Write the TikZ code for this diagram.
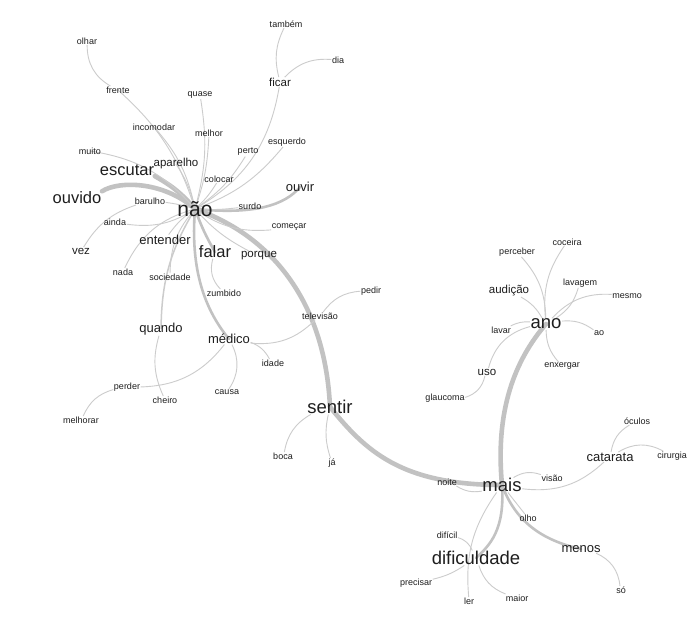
\documentclass[tikz,border=0pt]{standalone}
\usepackage{fontspec}
\setmainfont{Liberation Sans}
\usetikzlibrary{backgrounds}
\definecolor{wordc}{HTML}{1E1E1E}
\definecolor{linkc}{HTML}{CCCCCC}
\definecolor{trunkc}{HTML}{C2C2C2}
\tikzset{
  wrd/.style={text=wordc,inner sep=0.5pt,font=\fontsize{#1}{#1}\selectfont},
  tw/.style={wrd=9},
  sw/.style={wrd=11.5},
  mw/.style={wrd=13},
  lw/.style={wrd=16.5},
  xw/.style={wrd=18.5},
  hw/.style={wrd=21},
  ln/.style={draw=linkc,line width=0.9pt},
  lm/.style={draw=trunkc,line width=2.6pt,line cap=round},
  lb/.style={draw=trunkc,line width=4.6pt,line cap=round}
}

\begin{document}
\begin{tikzpicture}[x=1pt,y=-1pt]
\useasboundingbox (0,0) rectangle (700,637);
% words
\node[hw] (nao) at (195,209) {não};
\node[lw] (escutar) at (127,170) {escutar};
\node[lw] (ouvido) at (77,198) {ouvido};
\node[sw] (aparelho) at (176,164) {aparelho};
\node[tw] (muito) at (90,151) {muito};
\node[tw] (incomodar) at (154,127) {incomodar};
\node[tw] (olhar) at (87,41) {olhar};
\node[tw] (frente) at (118,90) {frente};
\node[tw] (quase) at (200,95) {quase};
\node[tw] (melhor) at (209,133) {melhor};
\node[tw] (tambem) at (286,24) {também};
\node[tw] (dia) at (338,60) {dia};
\node[sw] (ficar) at (280,82) {ficar};
\node[tw] (esquerdo) at (287,142) {esquerdo};
\node[tw] (perto) at (248,152) {perto};
\node[tw] (colocar) at (219,179) {colocar};
\node[mw] (ouvir) at (300,187) {ouvir};
\node[tw] (surdo) at (250,206) {surdo};
\node[tw] (barulho) at (150,201) {barulho};
\node[tw] (ainda) at (115,222) {ainda};
\node[tw] (comecar) at (289,227) {começar};
\node[mw] (entender) at (165,240) {entender};
\node[sw] (vez) at (81,251) {vez};
\node[lw] (falar) at (215,252) {falar};
\node[sw] (porque) at (259,256) {porque};
\node[tw] (nada) at (123,272) {nada};
\node[tw] (sociedade) at (170,277) {sociedade};
\node[tw] (zumbido) at (224,293) {zumbido};
\node[tw] (pedir) at (371,291) {pedir};
\node[tw] (televisao) at (320,316) {televisão};
\node[mw] (quando) at (161,329) {quando};
\node[mw] (medico) at (229,339) {médico};
\node[tw] (idade) at (273,363) {idade};
\node[tw] (perder) at (127,387) {perder};
\node[tw] (cheiro) at (165,400) {cheiro};
\node[tw] (causa) at (227,392) {causa};
\node[tw] (melhorar) at (81,420) {melhorar};
\node[xw] (sentir) at (330,407) {sentir};
\node[tw] (boca) at (283,456) {boca};
\node[tw] (ja) at (332,463) {já};
\node[tw] (glaucoma) at (445,398) {glaucoma};
\node[sw] (uso) at (487,372) {uso};
\node[tw] (lavar) at (501,330) {lavar};
\node[sw] (audicao) at (509,291) {audição};
\node[tw] (perceber) at (517,252) {perceber};
\node[tw] (coceira) at (567,242) {coceira};
\node[tw] (lavagem) at (580,283) {lavagem};
\node[tw] (mesmo) at (627,296) {mesmo};
\node[xw] (ano) at (546,324) {ano};
\node[tw] (ao) at (599,333) {ao};
\node[tw] (enxergar) at (562,366) {enxergar};
\node[tw] (oculos) at (637,421) {óculos};
\node[mw] (catarata) at (610,457) {catarata};
\node[tw] (cirurgia) at (672,456) {cirurgia};
\node[tw] (visao) at (552,478) {visão};
\node[tw] (noite) at (447,482) {noite};
\node[xw] (mais) at (502,485) {mais};
\node[tw] (olho) at (528,518) {olho};
\node[tw] (dificil) at (447,535) {difícil};
\node[xw] (dificuldade) at (476,558) {dificuldade};
\node[mw] (menos) at (581,549) {menos};
\node[tw] (precisar) at (416,583) {precisar};
\node[tw] (maior) at (517,598) {maior};
\node[tw] (ler) at (469,601) {ler};
\node[tw] (so) at (621,590) {só};
% links
\begin{scope}[on background layer]
\fill[white] (0,0) rectangle (700,637);
% trunks
\draw[lb] (nao.center) .. controls (270,235) and (325,300) .. (sentir.center);
\draw[lb] (sentir.center) .. controls (365,450) and (400,485) .. (mais.center);
\draw[lb] (mais.center) .. controls (495,410) and (515,360) .. (ano.center);
\draw[lb] (escutar.south east) to[bend left=10] (nao.center);
\draw[lb] (ouvido.north east) .. controls (120,180) and (165,182) .. (nao.center);
\draw[lm] (ouvir.center) .. controls (285,205) and (255,215) .. (nao.center);
\draw[lm] (medico.center) .. controls (205,310) and (190,270) .. (nao.center);
\draw[lm] (falar.center) to[bend left=5] (nao.center);
\draw[lm] (mais.center) .. controls (505,530) and (490,545) .. (dificuldade.center);
\draw[lm] (mais.center) .. controls (515,520) and (540,540) .. (menos.center);
\draw[ln,line width=1.5pt] (quando.center) to[bend left=15] (nao.center);
% around nao
\draw[ln] (olhar) to[bend right=30] (frente);
\draw[ln] (frente.center) to[bend left=15] (nao.center);
\draw[ln] (incomodar.center) to[bend left=15] (nao.center);
\draw[ln] (muito.center) to[bend left=20] (nao.center);
\draw[ln] (aparelho.center) to[bend left=10] (nao.center);
\draw[ln] (quase) to[bend left=12] (nao.center);
\draw[ln] (melhor) to[bend left=8] (nao.center);
\draw[ln] (ficar) to[bend left=25] (nao.center);
\draw[ln] (ficar) to[bend left=20] (tambem);
\draw[ln] (ficar) to[bend left=25] (dia);
\draw[ln] (esquerdo) to[bend left=15] (nao.center);
\draw[ln] (perto) to[bend left=12] (nao.center);
\draw[ln] (colocar) to[bend left=8] (nao.center);
\draw[ln] (surdo) to[bend left=5] (nao.center);
\draw[ln] (barulho) to[bend left=5] (nao.center);
\draw[ln] (vez) to[bend left=20] (barulho);
\draw[ln] (ainda) to[bend right=20] (nao.center);
\draw[ln] (comecar) to[bend left=20] (nao.center);
\draw[ln] (entender) to[bend left=10] (nao.center);
\draw[ln] (nada) to[bend left=25] (nao.center);
\draw[ln] (sociedade) to[bend left=20] (nao.center);
\draw[ln] (porque) to[bend left=10] (nao.center);
\draw[ln] (quando) to[bend right=20] (cheiro);
\draw[ln] (falar) to[bend right=30] (zumbido);
\draw[ln] (medico) to[bend left=25] (perder);
\draw[ln] (perder) to[bend right=25] (melhorar);
\draw[ln] (medico) to[bend left=30] (causa);
\draw[ln] (medico) to[bend left=20] (idade);
\draw[ln] (medico) to[bend right=25] (televisao);
\draw[ln] (televisao) to[bend left=25] (pedir);
% around sentir
\draw[ln] (sentir) to[bend right=25] (boca);
\draw[ln] (sentir) to[bend right=15] (ja);
% around mais
\draw[ln] (noite) to[bend right=20] (mais);
\draw[ln] (mais) to[bend left=25] (visao);
\draw[ln] (mais) to[bend right=25] (catarata);
\draw[ln] (catarata) to[bend left=25] (oculos);
\draw[ln] (catarata) to[bend left=30] (cirurgia);
\draw[ln] (mais) to (olho);
\draw[ln] (menos) to[bend left=30] (so);
\draw[ln] (mais) to[bend right=20] (ler);
\draw[ln] (dificuldade) to[bend right=25] (dificil);
\draw[ln] (dificuldade) to[bend right=25] (maior);
\draw[ln] (dificuldade) to[bend left=10] (precisar);
% around ano
\draw[ln] (ano) to[bend right=20] (perceber);
\draw[ln] (ano) to[bend left=20] (coceira);
\draw[ln] (ano) to[bend right=20] (lavagem);
\draw[ln] (ano) to[bend left=25] (mesmo);
\draw[ln] (ano) to[bend right=15] (audicao);
\draw[ln] (ano) to[bend right=15] (lavar);
\draw[ln] (ano) to[bend right=30] (uso);
\draw[ln] (uso) to[bend left=30] (glaucoma);
\draw[ln] (ano) to[bend left=20] (ao);
\draw[ln] (ano) to[bend right=20] (enxergar);
\end{scope}
\end{tikzpicture}
\end{document}
